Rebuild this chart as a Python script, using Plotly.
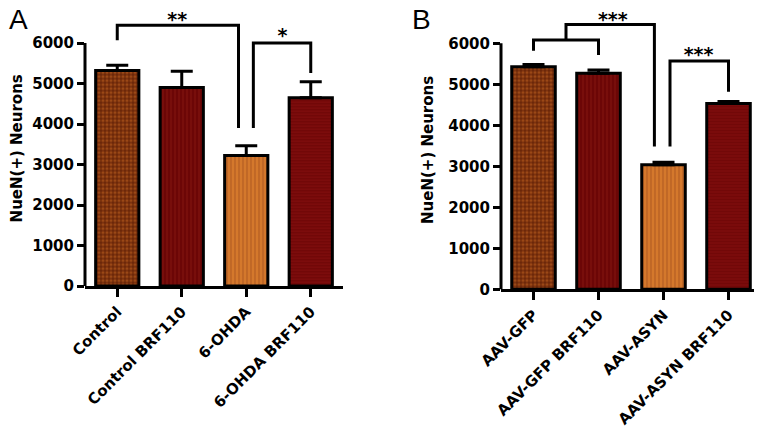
import plotly.graph_objects as go

# ---- data ----
cats_a = ["Control", "Control BRF110", "6-OHDA", "6-OHDA BRF110"]
vals_a = [5320, 4900, 3220, 4650]
err_a = [130, 400, 245, 395]

cats_b = ["AAV-GFP", "AAV-GFP BRF110", "AAV-ASYN", "AAV-ASYN BRF110"]
vals_b = [5430, 5270, 3040, 4530]
err_b = [55, 80, 60, 50]

y_ticks = [0, 1000, 2000, 3000, 4000, 5000, 6000]

# significance brackets (x = category position, y = neuron count)
brk_a_x = [0, 0, 1.88, 1.88, None, 2.11, 2.11, 3, 3]
brk_a_y = [6070, 6440, 6440, 3900, None, 3900, 6000, 6000, 5260]
star_a_x = [0.93, 2.56]
star_a_y = [6540, 6150]
star_a_t = ["**", "*"]

brk_b_x = [0, 0, 1, 1, None, 0.5, 0.5, 1.86, 1.86, None, 2.1, 2.1, 3, 3]
brk_b_y = [5820, 6080, 6080, 5715, None, 6080, 6460, 6460, 3480, None, 3480, 5570, 5570, 4820]
star_b_x = [1.22, 2.54]
star_b_y = [6540, 5680]
star_b_t = ["***", "***"]

# ---- styles ----
pat_shape = [".", "|", "|", "-"]
pat_bg = ["#6a2608", "#6c0606", "#d4782c", "#700606"]
pat_fg = ["#cc6a24", "#8e1c14", "#9c4a1a", "#941616"]
pat_size = [4, 4, 4, 3]
pat_sol = [0.5, 0.35, 0.35, 0.4]

FONT = "DejaVu Sans"
W, H = 762, 440
OFF = 8  # default page body margin
YMAX = 6800


def px_x(p):
    return (p - OFF) / W


def px_y(p):
    return 1 - (p - OFF) / H


def ydom(zero_px, six_px):
    top = zero_px - YMAX * (zero_px - six_px) / 6000
    return [px_y(zero_px), px_y(top)]


fig = go.Figure()


def add_panel(cats, vals, errs, bx, by, sx, sy, st, xa, ya):
    for i in range(len(cats)):
        fig.add_trace(go.Bar(
            x=[i], y=[vals[i]], width=0.67,
            xaxis=xa, yaxis=ya,
            marker=dict(color=pat_bg[i], line=dict(color="black", width=3),
                        pattern=dict(shape=pat_shape[i], bgcolor=pat_bg[i], fgcolor=pat_fg[i],
                                     size=pat_size[i], solidity=pat_sol[i], fillmode="overlay")),
            error_y=dict(type="data", array=[errs[i]], arrayminus=[0], symmetric=False,
                         color="black", thickness=3, width=11),
            showlegend=False, hoverinfo="skip",
        ))
    fig.add_trace(go.Scatter(
        x=bx, y=by, mode="lines", xaxis=xa, yaxis=ya,
        line=dict(color="black", width=3), showlegend=False, hoverinfo="skip",
    ))
    fig.add_trace(go.Scatter(
        x=sx, y=sy, mode="text", text=st, xaxis=xa, yaxis=ya,
        textfont=dict(family=FONT, size=19, color="black", weight="bold"),
        textposition="middle center", showlegend=False, hoverinfo="skip",
        cliponaxis=False,
    ))


add_panel(cats_a, vals_a, err_a, brk_a_x, brk_a_y, star_a_x, star_a_y, star_a_t, "x", "y")
add_panel(cats_b, vals_b, err_b, brk_b_x, brk_b_y, star_b_x, star_b_y, star_b_t, "x2", "y2")

tickfont = dict(family=FONT, size=15, color="black", weight="bold")
titlefont = dict(family=FONT, size=15, color="black", weight="bold")


def xaxis(domain, cats, anchor):
    return dict(domain=domain, anchor=anchor, range=[-0.5, 3.5], automargin=False,
                tickvals=list(range(len(cats))), ticktext=cats, tickangle=-45,
                showline=True, linecolor="black", linewidth=3,
                ticks="outside", ticklen=8, tickwidth=3, tickcolor="black",
                tickfont=tickfont, showgrid=False, zeroline=False, fixedrange=True)


def yaxis(domain, anchor):
    return dict(domain=domain, anchor=anchor, range=[0, YMAX], automargin=False,
                tickvals=y_ticks, showline=False,
                ticks="outside", ticklen=7, tickwidth=3, tickcolor="black",
                tickfont=tickfont, showgrid=False, zeroline=False, fixedrange=True,
                title=dict(text="NueN(+) Neurons", font=titlefont, standoff=10))


fig.update_layout(
    width=W, height=H,
    margin=dict(l=0, r=0, t=0, b=0, autoexpand=False),
    paper_bgcolor="white", plot_bgcolor="white",
    barmode="overlay",
    xaxis=xaxis([px_x(85), px_x(343)], cats_a, "y"),
    yaxis=yaxis(ydom(286, 43), "x"),
    xaxis2=xaxis([px_x(501), px_x(761)], cats_b, "y2"),
    yaxis2=yaxis(ydom(289.3, 43.3), "x2"),
    shapes=[
        dict(type="line", xref="x domain", yref="y", x0=0, x1=0, y0=-40, y1=y_ticks[-1],
             line=dict(color="black", width=3)),
        dict(type="line", xref="x2 domain", yref="y2", x0=0, x1=0, y0=-40, y1=y_ticks[-1],
             line=dict(color="black", width=3)),
    ],
    annotations=[
        dict(text="A", x=px_x(18), y=px_y(20), xref="paper", yref="paper",
             xanchor="center", yanchor="middle",
             showarrow=False, font=dict(family="Liberation Sans", size=28, color="black")),
        dict(text="B", x=px_x(421), y=px_y(20), xref="paper", yref="paper",
             xanchor="center", yanchor="middle",
             showarrow=False, font=dict(family="Liberation Sans", size=28, color="black")),
    ],
)

fig.write_html("out.html")
